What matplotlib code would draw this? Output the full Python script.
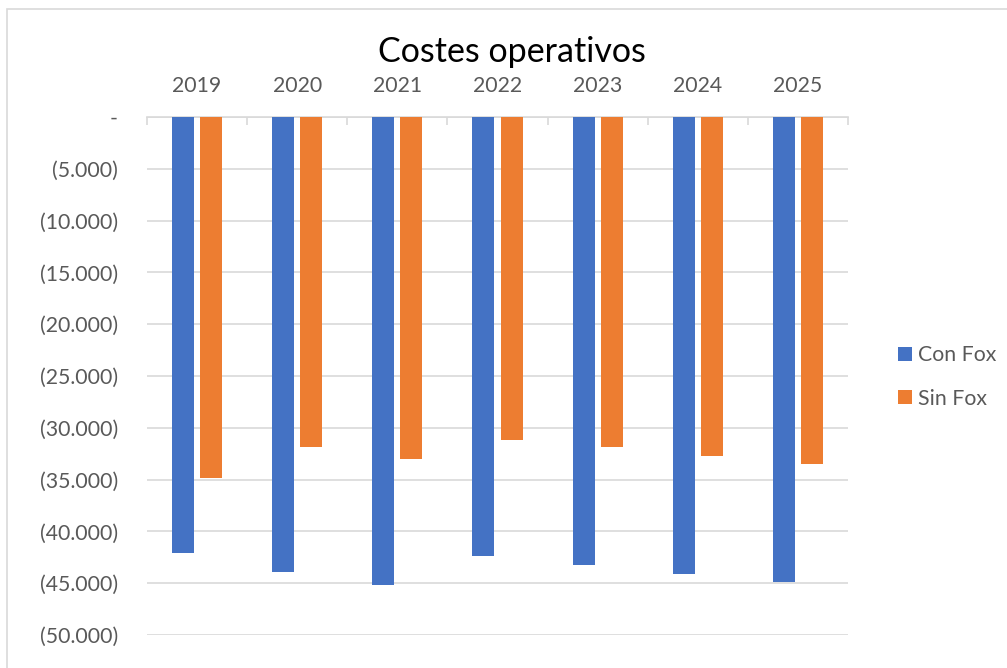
import matplotlib
matplotlib.use("Agg")
import matplotlib.pyplot as plt
from matplotlib.patches import Rectangle
import numpy as np

# Operating costs per year, with and without Fox
years = ["2019", "2020", "2021", "2022", "2023", "2024", "2025"]
con_fox = [-42100, -43900, -45200, -42400, -43200, -44100, -44900]
sin_fox = [-34800, -31900, -33000, -31200, -31900, -32700, -33500]
series_names = ["Con Fox", "Sin Fox"]
y_ticks = [0, -5000, -10000, -15000, -20000, -25000, -30000, -35000, -40000, -45000, -50000]

BLUE = "#4472C4"
ORANGE = "#ED7D31"
GRID = "#D9D9D9"
TEXT = "#595959"

plt.rcParams["font.family"] = ["Lato", "DejaVu Sans"]

W, H = 1007, 668
fig = plt.figure(figsize=(W / 100, H / 100), dpi=100)
fig.patch.set_facecolor("white")

# chart-area frame
fig.add_artist(Rectangle((7 / W, -0.1), 1.2, 1 - 8.5 / H + 0.1,
                         transform=fig.transFigure, fill=False,
                         edgecolor=GRID, linewidth=1.2))

ax = fig.add_axes([147 / W, 1 - 635 / H, (848 - 147) / W, (635 - 117) / H])

x = np.arange(len(years))
bw = 0.22
off = 0.14
b1 = ax.bar(x - off, con_fox, width=bw, color=BLUE, label=series_names[0], zorder=3)
b2 = ax.bar(x + off, sin_fox, width=bw, color=ORANGE, label=series_names[1], zorder=3)

ax.set_xlim(-0.5, len(years) - 0.5)
ax.set_ylim(-50000, 0)


def fmt(v):
    if v == 0:
        return "-"
    s = f"{abs(int(v)):,}".replace(",", ".")
    return f"({s})" if v < 0 else s


ax.set_yticks(y_ticks)
ax.set_yticklabels([fmt(v) for v in y_ticks])
ax.yaxis.grid(True, color=GRID, linewidth=1.2, zorder=0)
ax.tick_params(axis="y", length=0, pad=21, labelsize=15.3, labelcolor=TEXT)

# category axis along the top
ax.xaxis.tick_top()
ax.set_xticks(x)
ax.set_xticklabels(years)
ax.set_xticks(np.arange(-0.5, len(years)), minor=True)
ax.tick_params(axis="x", which="major", length=0, pad=15, labelsize=15.3, labelcolor=TEXT)
ax.tick_params(axis="x", which="minor", direction="in", length=6, color=GRID, width=1.2)

for side in ["left", "right", "bottom"]:
    ax.spines[side].set_visible(False)
ax.spines["top"].set_color(GRID)
ax.spines["top"].set_linewidth(1.2)
ax.set_facecolor("none")

fig.text(512 / W, 1 - 52 / H, "Costes operativos", ha="center", va="center",
         fontsize=24.5, color="black")

ax.legend(handles=[b1, b2], loc="center left", bbox_to_anchor=(879 / W, 1 - 377 / H),
          bbox_transform=fig.transFigure, frameon=False, fontsize=15.3,
          labelcolor=TEXT, handlelength=0.65, handleheight=0.65, handletextpad=0.28,
          labelspacing=1.1)

fig.savefig("out.png", dpi=100, facecolor="white")
